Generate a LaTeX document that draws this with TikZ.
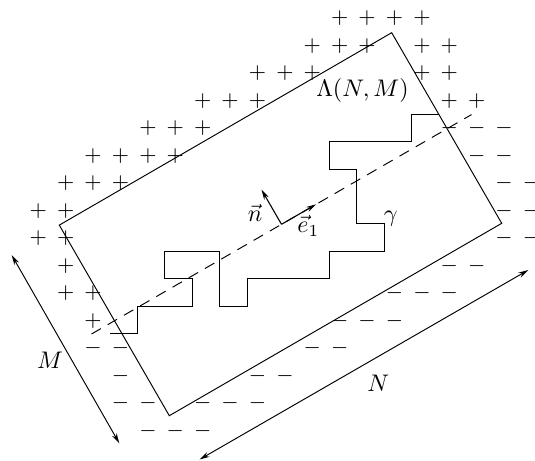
\documentclass[tikz,border=0pt]{standalone}
\usetikzlibrary{arrows.meta}
\begin{document}
\begin{tikzpicture}[x=0.4167pt, y=-0.4167pt,
  sgn/.style={inner sep=0pt, font=\fontsize{8.8}{10}\selectfont},
  lbl/.style={inner sep=0pt, font=\fontsize{10.3}{12}\selectfont},
  edge/.style={line width=0.4pt},
  dline/.style={line width=0.4pt, dash pattern=on 4.5pt off 3.3pt},
  vec/.style={-{Stealth[length=4.2pt,width=2.2pt]}, line width=0.45pt},
  dimarrow/.style={{Stealth[length=4.2pt,width=2.2pt]}-{Stealth[length=4.2pt,width=2.2pt]}, line width=0.4pt}]
\useasboundingbox (0,0) rectangle (535,460);

% plus signs
\foreach \k/\j in {11/0,12/0,13/0,14/0,
  10/1,11/1,12/1,14/1,15/1,
  8/2,9/2,10/2,14/2,15/2,
  6/3,7/3,8/3,15/3,16/3,
  4/4,5/4,6/4,
  2/5,3/5,4/5,5/5,
  1/6,2/6,3/6,
  0/7,1/7,
  0/8,1/8,
  1/9,
  1/10,2/10,
  2/11}
  \node[sgn] (p\k-\j) at ({38.3+27.4*\k},{18.3+27.5*\j}) {$+$};

% minus signs
\foreach \k/\j in {15/4,16/4,17/4,
  16/5,17/5,
  17/6,18/6,
  17/7,18/7,
  17/8,18/8,
  15/9,16/9,
  13/10,14/10,15/10,
  11/11,12/11,13/11,
  2/12,3/12,10/12,11/12,
  3/13,8/13,9/13,
  3/14,4/14,6/14,7/14,8/14,
  4/15,5/15,6/15}
  \node[sgn] (m\k-\j) at ({38.3+27.4*\k},{18.3+27.5*\j}) {$-$};

% rectangle Lambda(N,M)
\coordinate (L) at (59.3,225.1);
\coordinate (T) at (391.7,32.7);
\coordinate (R) at (501.7,223.3);
\coordinate (B) at (169.3,415.7);
\draw[edge] (L) -- (T) -- (R) -- (B) -- cycle;

% dashed axis
\coordinate (O) at (281.5,224.3);
\coordinate (d1) at (91.5,334);
\coordinate (d2) at (471.5,114.6);
\draw[dline] (d1) -- (d2);

% interface gamma
\draw[edge] (110,333.5) -- (137.4,333.5) -- (137.4,306.1) -- (192.2,306.1)
  -- (192.2,278.7) -- (164.8,278.7) -- (164.8,251.3) -- (219.6,251.3)
  -- (219.6,306.1) -- (247,306.1) -- (247,278.7) -- (329.2,278.7)
  -- (329.2,251.3) -- (384,251.3) -- (384,223.9) -- (356.6,223.9)
  -- (356.6,169.1) -- (329.2,169.1) -- (329.2,141.7) -- (411.4,141.7)
  -- (411.4,114.3) -- (438.8,114.3);

% vectors
\coordinate (ntip) at (261.5,189.7);
\coordinate (etip) at (316.1,204.3);
\draw[vec] (O) -- (ntip);
\draw[vec] (O) -- (etip);

% dimension arrows
\coordinate (Mtop) at (11.7,255);
\coordinate (Mbot) at (119.3,443.3);
\draw[dimarrow] (Mtop) -- (Mbot);
\coordinate (Nbot) at (199.5,459.5);
\coordinate (Ntop) at (528.3,270);
\draw[dimarrow] (Nbot) -- (Ntop);

% labels
\node[lbl] (lam) at (362.5,90.5) {$\Lambda(N,M)$};
\node[lbl] (gam) at (390.7,218.3) {$\gamma$};
\node[lbl] (nl) at (255,213.3) {$\vec n$};
\node[lbl] (el) at (308.3,226) {$\vec e_1$};
\node[lbl] (Ml) at (50,360.7) {$M$};
\node[lbl] (Nl) at (378.3,383.3) {$N$};
\end{tikzpicture}
\end{document}
